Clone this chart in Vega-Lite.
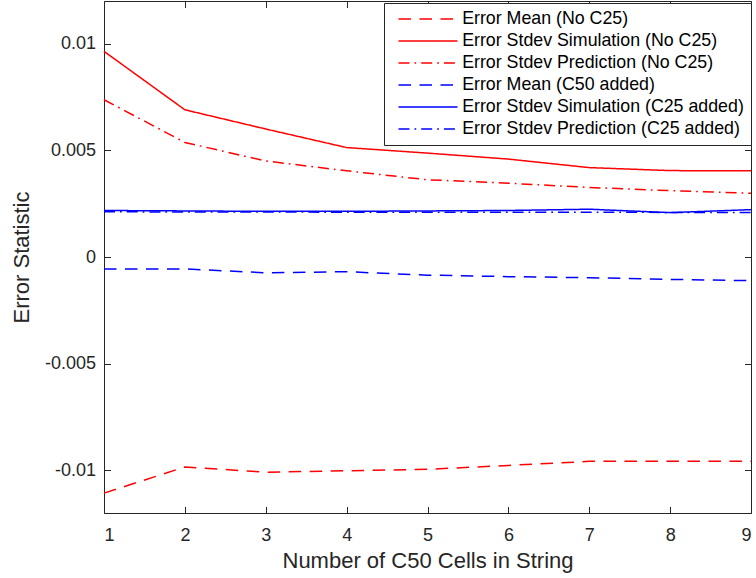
{
  "$schema": "https://vega.github.io/schema/vega-lite/v6.json",
  "width": 647,
  "height": 512,
  "autosize": {"type": "none"},
  "padding": {"left": 104, "top": 1, "right": 5, "bottom": 65},
  "background": "white",
  "config": {
    "font": "Liberation Sans",
    "view": {"stroke": null},
    "axis": {
      "domainColor": "#262626",
      "tickColor": "#262626",
      "labelColor": "#262626",
      "titleColor": "#262626",
      "labelFont": "Liberation Sans",
      "titleFont": "Liberation Sans",
      "labelFontSize": 18,
      "titleFontSize": 22,
      "titleFontWeight": "normal",
      "grid": false,
      "tickSize": -6.5,
      "domainWidth": 1,
      "tickWidth": 1
    },
    "legend": {
      "title": null,
      "orient": "none",
      "legendX": 280,
      "legendY": 2,
      "symbolType": "M-4,0H4",
      "symbolSize": 217.56,
      "symbolStrokeWidth": 1.5,
      "labelFont": "Liberation Sans",
      "labelFontSize": 17.8,
      "labelColor": "#000000",
      "labelLimit": 500,
      "labelOffset": 25.25,
      "strokeColor": "#262626",
      "fillColor": "#FFFFFF",
      "padding": 7,
      "rowPadding": 3.0,
      "symbolOffset": 28.1
    }
  },
  "data": {
    "values": [
      {"n": 1, "series": "Error Mean (No C25)", "value": -0.01107},
      {"n": 2, "series": "Error Mean (No C25)", "value": -0.00984},
      {"n": 3, "series": "Error Mean (No C25)", "value": -0.01009},
      {"n": 4, "series": "Error Mean (No C25)", "value": -0.01002},
      {"n": 5, "series": "Error Mean (No C25)", "value": -0.00995},
      {"n": 6, "series": "Error Mean (No C25)", "value": -0.00977},
      {"n": 7, "series": "Error Mean (No C25)", "value": -0.00958},
      {"n": 8, "series": "Error Mean (No C25)", "value": -0.00958},
      {"n": 9, "series": "Error Mean (No C25)", "value": -0.00957},
      {"n": 1, "series": "Error Stdev Simulation (No C25)", "value": 0.00964},
      {"n": 2, "series": "Error Stdev Simulation (No C25)", "value": 0.0069},
      {"n": 3, "series": "Error Stdev Simulation (No C25)", "value": 0.006},
      {"n": 4, "series": "Error Stdev Simulation (No C25)", "value": 0.00513},
      {"n": 5, "series": "Error Stdev Simulation (No C25)", "value": 0.00487},
      {"n": 6, "series": "Error Stdev Simulation (No C25)", "value": 0.00459},
      {"n": 7, "series": "Error Stdev Simulation (No C25)", "value": 0.00419},
      {"n": 8, "series": "Error Stdev Simulation (No C25)", "value": 0.00405},
      {"n": 9, "series": "Error Stdev Simulation (No C25)", "value": 0.00404},
      {"n": 1, "series": "Error Stdev Prediction (No C25)", "value": 0.00737},
      {"n": 2, "series": "Error Stdev Prediction (No C25)", "value": 0.00537},
      {"n": 3, "series": "Error Stdev Prediction (No C25)", "value": 0.0045},
      {"n": 4, "series": "Error Stdev Prediction (No C25)", "value": 0.00404},
      {"n": 5, "series": "Error Stdev Prediction (No C25)", "value": 0.00362},
      {"n": 6, "series": "Error Stdev Prediction (No C25)", "value": 0.00346},
      {"n": 7, "series": "Error Stdev Prediction (No C25)", "value": 0.00326},
      {"n": 8, "series": "Error Stdev Prediction (No C25)", "value": 0.00311},
      {"n": 9, "series": "Error Stdev Prediction (No C25)", "value": 0.00299},
      {"n": 1, "series": "Error Mean (C50 added)", "value": -0.00056},
      {"n": 2, "series": "Error Mean (C50 added)", "value": -0.00056},
      {"n": 3, "series": "Error Mean (C50 added)", "value": -0.00074},
      {"n": 4, "series": "Error Mean (C50 added)", "value": -0.00069},
      {"n": 5, "series": "Error Mean (C50 added)", "value": -0.00085},
      {"n": 6, "series": "Error Mean (C50 added)", "value": -0.00092},
      {"n": 7, "series": "Error Mean (C50 added)", "value": -0.00097},
      {"n": 8, "series": "Error Mean (C50 added)", "value": -0.00105},
      {"n": 9, "series": "Error Mean (C50 added)", "value": -0.00111},
      {"n": 1, "series": "Error Stdev Simulation (C25 added)", "value": 0.00218},
      {"n": 2, "series": "Error Stdev Simulation (C25 added)", "value": 0.00216},
      {"n": 3, "series": "Error Stdev Simulation (C25 added)", "value": 0.00214},
      {"n": 4, "series": "Error Stdev Simulation (C25 added)", "value": 0.00214},
      {"n": 5, "series": "Error Stdev Simulation (C25 added)", "value": 0.00216},
      {"n": 6, "series": "Error Stdev Simulation (C25 added)", "value": 0.00218},
      {"n": 7, "series": "Error Stdev Simulation (C25 added)", "value": 0.00224},
      {"n": 8, "series": "Error Stdev Simulation (C25 added)", "value": 0.00208},
      {"n": 9, "series": "Error Stdev Simulation (C25 added)", "value": 0.00222},
      {"n": 1, "series": "Error Stdev Prediction (C25 added)", "value": 0.00212},
      {"n": 2, "series": "Error Stdev Prediction (C25 added)", "value": 0.00211},
      {"n": 3, "series": "Error Stdev Prediction (C25 added)", "value": 0.00211},
      {"n": 4, "series": "Error Stdev Prediction (C25 added)", "value": 0.0021},
      {"n": 5, "series": "Error Stdev Prediction (C25 added)", "value": 0.0021},
      {"n": 6, "series": "Error Stdev Prediction (C25 added)", "value": 0.0021},
      {"n": 7, "series": "Error Stdev Prediction (C25 added)", "value": 0.0021},
      {"n": 8, "series": "Error Stdev Prediction (C25 added)", "value": 0.00209},
      {"n": 9, "series": "Error Stdev Prediction (C25 added)", "value": 0.00209}
    ]
  },
  "layer": [
    {
      "mark": {"type": "line", "strokeWidth": 1.5},
      "encoding": {
        "x": {
          "field": "n",
          "type": "quantitative",
          "scale": {"domain": [1, 9], "nice": false, "zero": false},
          "axis": {
            "orient": "bottom",
            "values": [1, 2, 3, 4, 5, 6, 7, 8, 9],
            "format": "d",
            "title": "Number of C50 Cells in String",
            "labelPadding": 19.5,
            "titlePadding": 6.5
          }
        },
        "y": {
          "field": "value",
          "type": "quantitative",
          "scale": {"domain": [-0.012, 0.012], "nice": false, "zero": false},
          "axis": {
            "orient": "left",
            "values": [-0.01, -0.005, 0, 0.005, 0.01],
            "format": "~g",
            "labelExpr": "replace(datum.label, '−', '-')",
            "title": "Error Statistic",
            "labelPadding": 15,
            "titlePadding": 11
          }
        },
        "color": {
          "field": "series",
          "type": "nominal",
          "scale": {
            "domain": ["Error Mean (No C25)", "Error Stdev Simulation (No C25)", "Error Stdev Prediction (No C25)", "Error Mean (C50 added)", "Error Stdev Simulation (C25 added)", "Error Stdev Prediction (C25 added)"],
            "range": ["#FF0000", "#FF0000", "#FF0000", "#0000FF", "#0000FF", "#0000FF"]
          },
          "legend": {"title": null}
        },
        "strokeDash": {
          "field": "series",
          "type": "nominal",
          "scale": {
            "domain": ["Error Mean (No C25)", "Error Stdev Simulation (No C25)", "Error Stdev Prediction (No C25)", "Error Mean (C50 added)", "Error Stdev Simulation (C25 added)", "Error Stdev Prediction (C25 added)"],
            "range": [[12.5, 8.5], [1, 0], [11, 5, 1.7, 5], [12.5, 8.5], [1, 0], [11, 5, 1.7, 5]]
          },
          "legend": {"title": null}
        }
      }
    },
    {
      "mark": {"type": "point", "opacity": 0},
      "encoding": {
        "x": {
          "field": "n",
          "type": "quantitative",
          "axis": {"orient": "top", "values": [1, 2, 3, 4, 5, 6, 7, 8, 9], "labels": false, "title": null}
        },
        "y": {
          "field": "value",
          "type": "quantitative",
          "axis": {"orient": "right", "values": [-0.01, -0.005, 0, 0.005, 0.01], "labels": false, "title": null}
        }
      }
    }
  ],
  "resolve": {"axis": {"x": "independent", "y": "independent"}}
}
